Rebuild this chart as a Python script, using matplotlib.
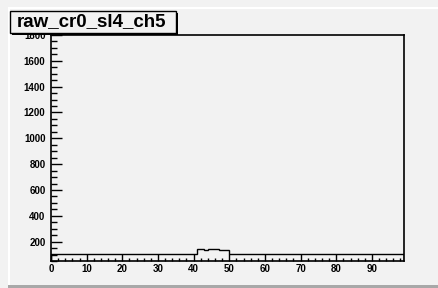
import matplotlib
matplotlib.use("Agg")
import matplotlib.pyplot as plt
from matplotlib.patches import Rectangle
from matplotlib.ticker import MultipleLocator

W, H = 438, 288
BG = '#f2f2f2'

title = "raw_cr0_sl4_ch5"

# histogram: 99 unit bins from 0 to 99
bin_edges = list(range(0, 100))
counts = [108] * 41 + [146, 146, 135, 146, 146, 146, 135, 135, 135] + [108] * 49

x_range = (0, 99)
y_range = (50, 1800)
x_major = 10
x_minor = 2
y_major = 200
y_minor = 50

fig = plt.figure(figsize=(W / 100, H / 100), dpi=100, facecolor=BG)
plt.rcParams['font.family'] = ['Liberation Sans', 'DejaVu Sans']

# frame position in pixels: left 51, right 404, top 35, bottom 261
ax = fig.add_axes([51 / W, 1 - 261 / H, (404 - 51) / W, (261 - 35) / H])
ax.set_facecolor(BG)

ax.stairs(counts, bin_edges, color='black', linewidth=1.0)

ax.set_xlim(*x_range)
ax.set_ylim(*y_range)
ax.xaxis.set_major_locator(MultipleLocator(x_major))
ax.xaxis.set_minor_locator(MultipleLocator(x_minor))
ax.yaxis.set_major_locator(MultipleLocator(y_major))
ax.yaxis.set_minor_locator(MultipleLocator(y_minor))

ax.tick_params(axis='x', which='major', direction='in', length=5, width=1,
               labelsize=7, pad=2)
ax.tick_params(axis='x', which='minor', direction='in', length=2.5, width=1)
ax.tick_params(axis='y', which='major', direction='in', length=8, width=1,
               labelsize=7, pad=4)
ax.tick_params(axis='y', which='minor', direction='in', length=4, width=1)
for lab in ax.get_xticklabels() + ax.get_yticklabels():
    lab.set_fontweight('bold')

for sp in ax.spines.values():
    sp.set_linewidth(1.2)
    sp.set_color('black')

# canvas bevel border (ROOT style)
fig.add_artist(Rectangle((8 / W, 1 - 9 / H), 1 - 8 / W, 1.5 / H,
                         transform=fig.transFigure, color='white', lw=0))
fig.add_artist(Rectangle((8 / W, 0), 1.5 / W, 1 - 8 / H,
                         transform=fig.transFigure, color='white', lw=0))
fig.add_artist(Rectangle((8 / W, 0), 1 - 8 / W, 3.5 / H,
                         transform=fig.transFigure, color='#a8a8a8', lw=0))

# title box with shadow
fig.add_artist(Rectangle((12 / W, 1 - 35 / H), 166 / W, 22 / H,
                         transform=fig.transFigure, color='black', lw=0, zorder=4))
fig.add_artist(Rectangle((10 / W, 1 - 33 / H), 166 / W, 22 / H,
                         transform=fig.transFigure, facecolor=BG,
                         edgecolor='black', lw=1, zorder=5))
fig.text(92 / W, 1 - 22 / H, title, ha='center', va='center',
         fontsize=13.5, fontweight='bold', color='black', zorder=6)

fig.savefig('out.png', dpi=100, facecolor=BG)
